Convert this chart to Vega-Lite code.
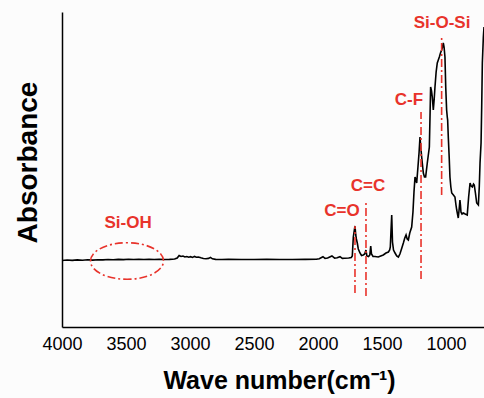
{
  "$schema": "https://vega.github.io/schema/vega-lite/v6.json",
  "autosize": {"type": "none"},
  "padding": {"left": 62, "top": 12, "right": 0, "bottom": 71},
  "width": 422,
  "height": 315,
  "background": "#fcfcfc",
  "config": {
    "view": {"stroke": null},
    "font": "Liberation Sans"
  },
  "datasets": {
    "spec": [
      {"w": 4000, "a": 66.5}, {"w": 3960, "a": 67}, {"w": 3920, "a": 66.6}, {"w": 3880, "a": 67.1},
      {"w": 3840, "a": 66.8}, {"w": 3800, "a": 67.2}, {"w": 3760, "a": 66.9}, {"w": 3720, "a": 67.3},
      {"w": 3680, "a": 67.1}, {"w": 3640, "a": 67.5}, {"w": 3600, "a": 67.2}, {"w": 3560, "a": 67.6},
      {"w": 3520, "a": 67.4}, {"w": 3480, "a": 67.7}, {"w": 3440, "a": 67.5}, {"w": 3400, "a": 67.7},
      {"w": 3360, "a": 67.5}, {"w": 3320, "a": 67.6}, {"w": 3280, "a": 67.5}, {"w": 3240, "a": 67.6},
      {"w": 3200, "a": 67.5}, {"w": 3160, "a": 67.6}, {"w": 3120, "a": 68}, {"w": 3100, "a": 69},
      {"w": 3085, "a": 71.5}, {"w": 3070, "a": 70.5}, {"w": 3055, "a": 71}, {"w": 3040, "a": 70},
      {"w": 3025, "a": 70.5}, {"w": 3010, "a": 69.8}, {"w": 2995, "a": 70.3}, {"w": 2980, "a": 69.6},
      {"w": 2965, "a": 70.6}, {"w": 2950, "a": 69.8}, {"w": 2935, "a": 70}, {"w": 2915, "a": 69.2},
      {"w": 2895, "a": 68.5}, {"w": 2875, "a": 68.2}, {"w": 2855, "a": 68.6}, {"w": 2840, "a": 69.6},
      {"w": 2825, "a": 68.2}, {"w": 2800, "a": 67.6}, {"w": 2750, "a": 67.5}, {"w": 2700, "a": 67.6},
      {"w": 2600, "a": 67.5}, {"w": 2500, "a": 67.5}, {"w": 2400, "a": 67.6}, {"w": 2300, "a": 67.5},
      {"w": 2200, "a": 67.5}, {"w": 2100, "a": 67.6}, {"w": 2013, "a": 67.7}, {"w": 1990, "a": 68.2},
      {"w": 1961, "a": 70.3}, {"w": 1945, "a": 68.7}, {"w": 1925, "a": 69}, {"w": 1891, "a": 71},
      {"w": 1870, "a": 68.8}, {"w": 1850, "a": 69.2}, {"w": 1828, "a": 70.3}, {"w": 1810, "a": 68.6},
      {"w": 1790, "a": 68.8}, {"w": 1760, "a": 69}, {"w": 1740, "a": 69.5}, {"w": 1732, "a": 71},
      {"w": 1724, "a": 90}, {"w": 1716, "a": 97}, {"w": 1711, "a": 101}, {"w": 1705, "a": 92},
      {"w": 1700, "a": 88}, {"w": 1693, "a": 84}, {"w": 1685, "a": 78}, {"w": 1672, "a": 74},
      {"w": 1660, "a": 71.5}, {"w": 1646, "a": 72}, {"w": 1635, "a": 73}, {"w": 1625, "a": 77},
      {"w": 1618, "a": 71}, {"w": 1605, "a": 70.5}, {"w": 1595, "a": 72}, {"w": 1588, "a": 81},
      {"w": 1582, "a": 73}, {"w": 1570, "a": 70.5}, {"w": 1555, "a": 70.5}, {"w": 1529, "a": 70},
      {"w": 1510, "a": 71}, {"w": 1490, "a": 72}, {"w": 1469, "a": 74}, {"w": 1450, "a": 75},
      {"w": 1440, "a": 77}, {"w": 1435, "a": 80}, {"w": 1430, "a": 95}, {"w": 1424, "a": 112},
      {"w": 1418, "a": 85}, {"w": 1410, "a": 77}, {"w": 1398, "a": 74}, {"w": 1385, "a": 71},
      {"w": 1372, "a": 70}, {"w": 1360, "a": 73}, {"w": 1345, "a": 79}, {"w": 1333, "a": 84},
      {"w": 1322, "a": 89}, {"w": 1312, "a": 92}, {"w": 1303, "a": 88}, {"w": 1294, "a": 87},
      {"w": 1283, "a": 94}, {"w": 1268, "a": 100}, {"w": 1258, "a": 115}, {"w": 1250, "a": 135},
      {"w": 1242, "a": 150}, {"w": 1236, "a": 148}, {"w": 1229, "a": 144}, {"w": 1219, "a": 160},
      {"w": 1210, "a": 175}, {"w": 1203, "a": 190}, {"w": 1197, "a": 180}, {"w": 1190, "a": 170},
      {"w": 1177, "a": 154}, {"w": 1168, "a": 150}, {"w": 1159, "a": 150}, {"w": 1146, "a": 164},
      {"w": 1130, "a": 180}, {"w": 1124, "a": 215}, {"w": 1120, "a": 240}, {"w": 1113, "a": 236},
      {"w": 1107, "a": 230}, {"w": 1099, "a": 217}, {"w": 1092, "a": 228}, {"w": 1086, "a": 240},
      {"w": 1077, "a": 255}, {"w": 1068, "a": 264}, {"w": 1060, "a": 267}, {"w": 1052, "a": 270},
      {"w": 1043, "a": 274}, {"w": 1034, "a": 277}, {"w": 1027, "a": 280}, {"w": 1021, "a": 284},
      {"w": 1015, "a": 280}, {"w": 1008, "a": 270}, {"w": 1002, "a": 240}, {"w": 995, "a": 217},
      {"w": 990, "a": 210}, {"w": 987, "a": 207}, {"w": 982, "a": 190}, {"w": 975, "a": 170},
      {"w": 969, "a": 150}, {"w": 962, "a": 140}, {"w": 955, "a": 134}, {"w": 942, "a": 132},
      {"w": 930, "a": 130}, {"w": 922, "a": 122}, {"w": 916, "a": 117}, {"w": 904, "a": 109},
      {"w": 897, "a": 118}, {"w": 891, "a": 127}, {"w": 887, "a": 122}, {"w": 883, "a": 115},
      {"w": 875, "a": 113}, {"w": 865, "a": 114}, {"w": 850, "a": 113}, {"w": 834, "a": 112},
      {"w": 823, "a": 130}, {"w": 812, "a": 144}, {"w": 803, "a": 141}, {"w": 794, "a": 140},
      {"w": 785, "a": 143}, {"w": 779, "a": 142}, {"w": 770, "a": 134}, {"w": 760, "a": 124},
      {"w": 747, "a": 122}, {"w": 740, "a": 140}, {"w": 734, "a": 164}, {"w": 726, "a": 184},
      {"w": 721, "a": 220}, {"w": 716, "a": 264}, {"w": 708, "a": 290}, {"w": 703, "a": 300}
    ],
    "marks": [
      {"w": 1711, "a": 34, "a2": 101},
      {"w": 1625, "a": 31, "a2": 126},
      {"w": 1195, "a": 48, "a2": 215},
      {"w": 1034, "a": 132, "a2": 289}
    ],
    "labels": [
      {"w": 1812, "a": 116, "label": "C=O"},
      {"w": 1609, "a": 141, "label": "C=C"},
      {"w": 1289, "a": 227, "label": "C-F"},
      {"w": 1031, "a": 304, "label": "Si-O-Si"},
      {"w": 3484, "a": 104, "label": "Si-OH"}
    ],
    "ellipse": [{"w": 3492, "a": 66}],
    "major": [{"w": 4000}, {"w": 3500}, {"w": 3000}, {"w": 2500}, {"w": 2000}, {"w": 1500}, {"w": 1000}],
    "minor": [{"w": 3750}, {"w": 3250}, {"w": 2750}, {"w": 2250}, {"w": 1750}, {"w": 1250}, {"w": 750}]
  },
  "encoding": {
    "x": {
      "field": "w", "type": "quantitative",
      "scale": {"domain": [4000, 703], "nice": false, "zero": false},
      "axis": {
        "title": "Wave number(cm⁻¹)",
        "values": [4000, 3500, 3000, 2500, 2000, 1500, 1000],
        "format": "d",
        "grid": false,
        "ticks": false,
        "domainColor": "#000", "domainWidth": 1.5,
        "labelFont": "Liberation Sans", "labelFontSize": 18, "labelColor": "#000",
        "labelPadding": 8, "labelBaseline": "top", "labelFlush": false,
        "titleFont": "Liberation Sans", "titleFontSize": 25, "titleFontWeight": "bold", "titleColor": "#000",
        "titleX": 217, "titleY": 61, "titleBaseline": "alphabetic", "titleAlign": "center"
      }
    },
    "y": {
      "field": "a", "type": "quantitative",
      "scale": {"domain": [0, 315], "nice": false, "zero": false},
      "axis": {
        "title": "Absorbance",
        "grid": false, "ticks": false, "labels": false,
        "domainColor": "#000", "domainWidth": 1.5,
        "titleFont": "Liberation Sans", "titleFontSize": 28, "titleFontWeight": "bold", "titleColor": "#000",
        "titleX": -34, "titleY": 150, "titleAngle": -90, "titleAlign": "center", "titleBaseline": "middle"
      }
    }
  },
  "layer": [
    {
      "data": {"name": "spec"},
      "mark": {"type": "line", "color": "#000", "strokeWidth": 1.6, "clip": true}
    },
    {
      "data": {"name": "major"},
      "mark": {"type": "rule", "color": "#000", "strokeWidth": 1.5},
      "encoding": {"y": {"datum": 0}, "y2": {"datum": 7}}
    },
    {
      "data": {"name": "minor"},
      "mark": {"type": "rule", "color": "#000", "strokeWidth": 1.5},
      "encoding": {"y": {"datum": 0}, "y2": {"datum": 4}}
    },
    {
      "data": {"values": [{}]},
      "mark": {"type": "rule", "color": "#000", "strokeWidth": 1.5},
      "encoding": {"x": {"datum": 4000}, "x2": {"datum": 703}, "y": {"datum": 315}}
    },
    {
      "data": {"name": "marks"},
      "mark": {"type": "rule", "color": "#e8332b", "strokeWidth": 1.6, "strokeDash": [8, 3, 2, 3]},
      "encoding": {"y2": {"field": "a2"}}
    },
    {
      "data": {"name": "labels"},
      "mark": {"type": "text", "color": "#e8332b", "font": "Liberation Sans", "fontSize": 17, "fontWeight": "bold", "baseline": "middle", "align": "center"},
      "encoding": {"text": {"field": "label"}}
    },
    {
      "data": {"name": "ellipse"},
      "mark": {"type": "point", "shape": "M-1,0A1,0.5 0 1,1 1,0A1,0.5 0 1,1 -1,0Z", "size": 5329, "filled": false, "color": "#e8332b", "strokeWidth": 1.6, "strokeDash": [8, 3, 2, 3], "opacity": 1}
    }
  ]
}
